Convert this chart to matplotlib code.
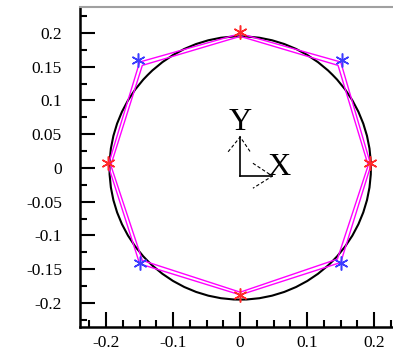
import matplotlib
matplotlib.use('Agg')
import matplotlib.pyplot as plt
from matplotlib.patches import Circle
from matplotlib.ticker import MultipleLocator, FuncFormatter

plt.rcParams['font.family'] = ['Liberation Serif', 'DejaVu Serif']
plt.rcParams['axes.unicode_minus'] = False

# measured points
red_x = [0.0, 0.193, 0.0, -0.197]
red_y = [0.201, 0.007, -0.188, 0.007]
blue_x = [0.152, 0.151, -0.150, -0.152]
blue_y = [0.160, -0.141, -0.141, 0.160]

# reconstructed polygons (two passes)
poly1_x = [0.0, 0.150, 0.195, 0.150, 0.0, -0.150, -0.197, -0.150, 0.0]
poly1_y = [0.199, 0.157, 0.004, -0.140, -0.188, -0.142, 0.004, 0.157, 0.199]
poly2_x = [0.0, 0.146, 0.191, 0.145, 0.0, -0.146, -0.193, -0.146, 0.0]
poly2_y = [0.195, 0.152, 0.004, -0.135, -0.184, -0.137, 0.004, 0.152, 0.195]

circle_radius = 0.195

xticks = [-0.2, -0.1, 0, 0.1, 0.2]
yticks = [-0.2, -0.15, -0.1, -0.05, 0, 0.05, 0.1, 0.15, 0.2]

fig = plt.figure(figsize=(3.93, 3.52), dpi=100)
ax = fig.add_axes([80 / 393, 25 / 352, 313 / 393, 320 / 352])

ax.add_patch(Circle((0, 0), circle_radius, fill=False, color='black', lw=1.5, zorder=2))
ax.plot(poly1_x, poly1_y, color='#ff00ff', lw=1.0, zorder=3)
ax.plot(poly2_x, poly2_y, color='#ff00ff', lw=1.0, zorder=3)
ax.plot(red_x, red_y, ls='none', marker=(6, 2, 0), ms=10, mew=1.1, color='#ff2a2a', zorder=4)
ax.plot(blue_x, blue_y, ls='none', marker=(6, 2, 0), ms=10, mew=1.1, color='#3c3cff', zorder=4)

# little axis glyph in the middle
ox, oy = 0.0, -0.012
ax.plot([ox, ox], [oy, 0.046], color='black', lw=1.2)
ax.plot([ox, 0.048], [oy, oy], color='black', lw=1.2)
ax.plot([-0.018, ox, 0.015], [0.024, 0.046, 0.024], color='black', lw=0.8, ls=(0, (3, 2)))
ax.plot([0.019, 0.048, 0.019], [0.007, oy, -0.030], color='black', lw=0.8, ls=(0, (3, 2)))
ax.text(0.0, 0.068, 'Y', fontsize=23, ha='center', va='center')
ax.text(0.057, 0.0, 'X', fontsize=23, ha='center', va='center')

ax.set_xlim(-0.239, 0.228)
ax.set_ylim(-0.2356, 0.2385)

ax.set_xticks(xticks)
ax.set_yticks(yticks)
ax.xaxis.set_minor_locator(MultipleLocator(0.025))
ax.yaxis.set_minor_locator(MultipleLocator(0.025))
fmt = FuncFormatter(lambda v, p: '%g' % round(v, 3))
ax.xaxis.set_major_formatter(fmt)
ax.yaxis.set_major_formatter(fmt)
ax.tick_params(which='both', direction='in', top=False, right=False, width=1.5, labelsize=12.5)
ax.tick_params(which='major', length=11)
ax.tick_params(which='minor', length=5)
ax.tick_params(axis='y', pad=13)
ax.tick_params(axis='x', pad=6)

ax.spines['right'].set_visible(False)
ax.spines['top'].set_color('#a0a0a0')
ax.spines['top'].set_linewidth(1.5)
ax.spines['left'].set_linewidth(1.8)
ax.spines['bottom'].set_linewidth(1.8)

fig.savefig('out.png', dpi=100)
